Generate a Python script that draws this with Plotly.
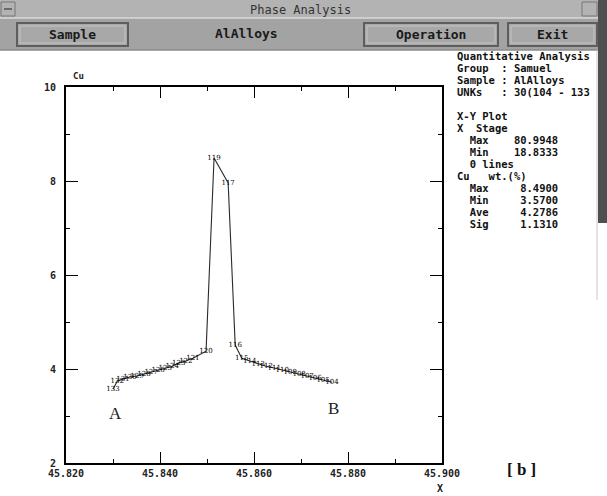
import plotly.graph_objects as go

# ---------------- data ----------------
point_ids = ["133", "132", "131", "130", "129", "128", "127", "126", "125", "124",
             "123", "122", "121", "120", "119", "117", "116", "115", "114", "113",
             "112", "111", "110", "109", "108", "107", "106", "105", "104"]
x_stage = [45.8300, 45.8309, 45.8321, 45.8336, 45.8351, 45.8366, 45.8381, 45.8396,
           45.8411, 45.8426, 45.8440, 45.8455, 45.8470, 45.8498, 45.8515, 45.8545,
           45.8560, 45.8574, 45.8591, 45.8609, 45.8626, 45.8643, 45.8660, 45.8677,
           45.8696, 45.8713, 45.8730, 45.8747, 45.8766]
cu_wt = [3.57, 3.74, 3.79, 3.83, 3.85, 3.89, 3.94, 3.98, 4.02, 4.06, 4.13, 4.17,
         4.23, 4.38, 8.49, 7.96, 4.51, 4.23, 4.17, 4.11, 4.06, 4.02, 3.98, 3.94,
         3.89, 3.85, 3.81, 3.77, 3.72]

x_ticks = [45.82, 45.84, 45.86, 45.88, 45.90]
x_tick_text = ["45.820", "45.840", "45.860", "45.880", "45.900"]
y_ticks = [2, 4, 6, 8, 10]
y_tick_text = ["2", "4", "6", "8", "10"]

info_lines = [
    "Quantitative Analysis",
    "Group  : Samuel",
    "Sample : AlAlloys",
    "UNKs   : 30(104 - 133",
    "",
    "X-Y Plot",
    "X  Stage",
    "  Max    80.9948",
    "  Min    18.8333",
    "  0 lines",
    "Cu   wt.(%)",
    "  Max     8.4900",
    "  Min     3.5700",
    "  Ave     4.2786",
    "  Sig     1.1310",
]
buttons = [("Sample", 17, 128), ("Operation", 364, 498), ("Exit", 508, 597)]

# ---------------- layout geometry (pixels) ----------------
W, H = 607, 496
L, R, T, B = 66, 442, 87, 463
PW, PH = R - L, B - T


def px(x):
    return (x - L) / PW


def py(y):
    return (B - y) / PH


fig = go.Figure()
fig.add_trace(go.Scatter(
    x=x_stage, y=cu_wt, mode="lines+text", text=point_ids,
    textposition="middle center",
    textfont=dict(family="DejaVu Serif", size=7, color="black"),
    line=dict(color="#2a2a2a", width=1.1),
    cliponaxis=False, hoverinfo="skip",
))

axis_common = dict(
    showline=True, linecolor="black", linewidth=1.8, mirror="allticks",
    ticks="inside", tickcolor="black", tickwidth=1.4, showgrid=False,
    zeroline=False,
    tickfont=dict(family="DejaVu Sans Mono", size=10, color="#222222", weight="bold"),
)
fig.update_xaxes(range=[45.82, 45.90], tickvals=x_ticks, ticktext=x_tick_text,
                 ticklen=11, minor=dict(dtick=0.01, tick0=45.82, ticklen=4,
                                        ticks="inside", tickcolor="black", tickwidth=1.4),
                 **axis_common)
fig.update_yaxes(range=[2, 10], tickvals=y_ticks, ticktext=y_tick_text,
                 ticklen=12, ticklabelstandoff=6,
                 minor=dict(dtick=1, tick0=2, ticklen=4, ticks="inside",
                            tickcolor="black", tickwidth=1.4),
                 **axis_common)

shapes = []
anns = []

# title bar + button bar
shapes.append(dict(type="rect", xref="paper", yref="paper", x0=px(0), x1=px(W),
                   y0=py(0), y1=py(18), fillcolor="#b3b3b3", line=dict(width=0), layer="above"))
shapes.append(dict(type="rect", xref="paper", yref="paper", x0=px(0), x1=px(W),
                   y0=py(18), y1=py(50), fillcolor="#a3a3a3", line=dict(width=0), layer="above"))
shapes.append(dict(type="line", xref="paper", yref="paper", x0=px(0), x1=px(W),
                   y0=py(18), y1=py(18), line=dict(color="#d8d8d8", width=1.5), layer="above"))
shapes.append(dict(type="line", xref="paper", yref="paper", x0=px(0), x1=px(W),
                   y0=py(50), y1=py(50), line=dict(color="#8a8a8a", width=1.5), layer="above"))
# small window boxes in title bar
shapes.append(dict(type="rect", xref="paper", yref="paper", x0=px(1), x1=px(15),
                   y0=py(2), y1=py(16), fillcolor="#b3b3b3", line=dict(color="#777777", width=1), layer="above"))
shapes.append(dict(type="line", xref="paper", yref="paper", x0=px(4), x1=px(12),
                   y0=py(9), y1=py(9), line=dict(color="#555555", width=1.5), layer="above"))
shapes.append(dict(type="rect", xref="paper", yref="paper", x0=px(582), x1=px(597),
                   y0=py(2), y1=py(16), fillcolor="#b3b3b3", line=dict(color="#777777", width=1), layer="above"))
anns.append(dict(text="Phase Analysis", x=px(300), y=py(10), xref="paper", yref="paper",
                 showarrow=False, xanchor="center", yanchor="middle",
                 font=dict(family="DejaVu Sans Mono", size=12, color="#333333")))
for label, x0, x1 in buttons:
    shapes.append(dict(type="rect", xref="paper", yref="paper", x0=px(x0), x1=px(x1),
                       y0=py(23), y1=py(46), fillcolor="#a8a8a8",
                       line=dict(color="#5e5e5e", width=2), layer="above"))
    shapes.append(dict(type="rect", xref="paper", yref="paper", x0=px(x0 + 3), x1=px(x1 - 3),
                       y0=py(26), y1=py(43), fillcolor="rgba(0,0,0,0)",
                       line=dict(color="#c4c4c4", width=1), layer="above"))
    anns.append(dict(text=label, x=px((x0 + x1) / 2), y=py(34.5), xref="paper", yref="paper",
                     showarrow=False, xanchor="center", yanchor="middle",
                     font=dict(family="DejaVu Sans Mono", size=13, color="#1a1a1a", weight="bold")))
anns.append(dict(text="AlAlloys", x=px(246), y=py(33.5), xref="paper", yref="paper",
                 showarrow=False, xanchor="center", yanchor="middle",
                 font=dict(family="DejaVu Sans Mono", size=13, color="#1a1a1a", weight="bold")))

# dark strip on the right edge
shapes.append(dict(type="rect", xref="paper", yref="paper", x0=px(598), x1=px(W),
                   y0=py(0), y1=py(223), fillcolor="#4f4f4f", line=dict(width=0), layer="above"))
shapes.append(dict(type="line", xref="paper", yref="paper", x0=px(597), x1=px(597),
                   y0=py(50), y1=py(300), line=dict(color="#c8c8c8", width=1), layer="above"))

# info panel text
for i, line in enumerate(info_lines):
    if not line:
        continue
    anns.append(dict(text=line.replace(" ", "&nbsp;"), x=px(455), y=py(56 + 12 * i),
                     xref="paper", yref="paper", showarrow=False,
                     xanchor="left", yanchor="middle",
                     font=dict(family="DejaVu Sans Mono", size=10.5, color="#111111", weight="bold")))

# axis names and markers
anns.append(dict(text="Cu", x=px(78), y=py(76), xref="paper", yref="paper", showarrow=False,
                 xanchor="center", yanchor="middle",
                 font=dict(family="DejaVu Sans Mono", size=9, color="#222222", weight="bold")))
anns.append(dict(text="X", x=px(440), y=py(488), xref="paper", yref="paper", showarrow=False,
                 xanchor="center", yanchor="middle",
                 font=dict(family="DejaVu Sans Mono", size=10, color="#222222", weight="bold")))
anns.append(dict(text="A", x=px(115), y=py(413), xref="paper", yref="paper", showarrow=False,
                 xanchor="center", yanchor="middle",
                 font=dict(family="Liberation Serif", size=17, color="#222222")))
anns.append(dict(text="B", x=px(333), y=py(408), xref="paper", yref="paper", showarrow=False,
                 xanchor="center", yanchor="middle",
                 font=dict(family="Liberation Serif", size=17, color="#222222")))
anns.append(dict(text="[ b ]", x=px(521), y=py(469), xref="paper", yref="paper", showarrow=False,
                 xanchor="center", yanchor="middle",
                 font=dict(family="Liberation Serif", size=17, color="#111111", weight="bold")))

fig.update_layout(
    width=W, height=H, autosize=False,
    margin=dict(l=L, r=W - R, t=T, b=H - B, pad=0),
    paper_bgcolor="white", plot_bgcolor="white",
    showlegend=False, shapes=shapes, annotations=anns,
)

fig.write_html("out.html")
